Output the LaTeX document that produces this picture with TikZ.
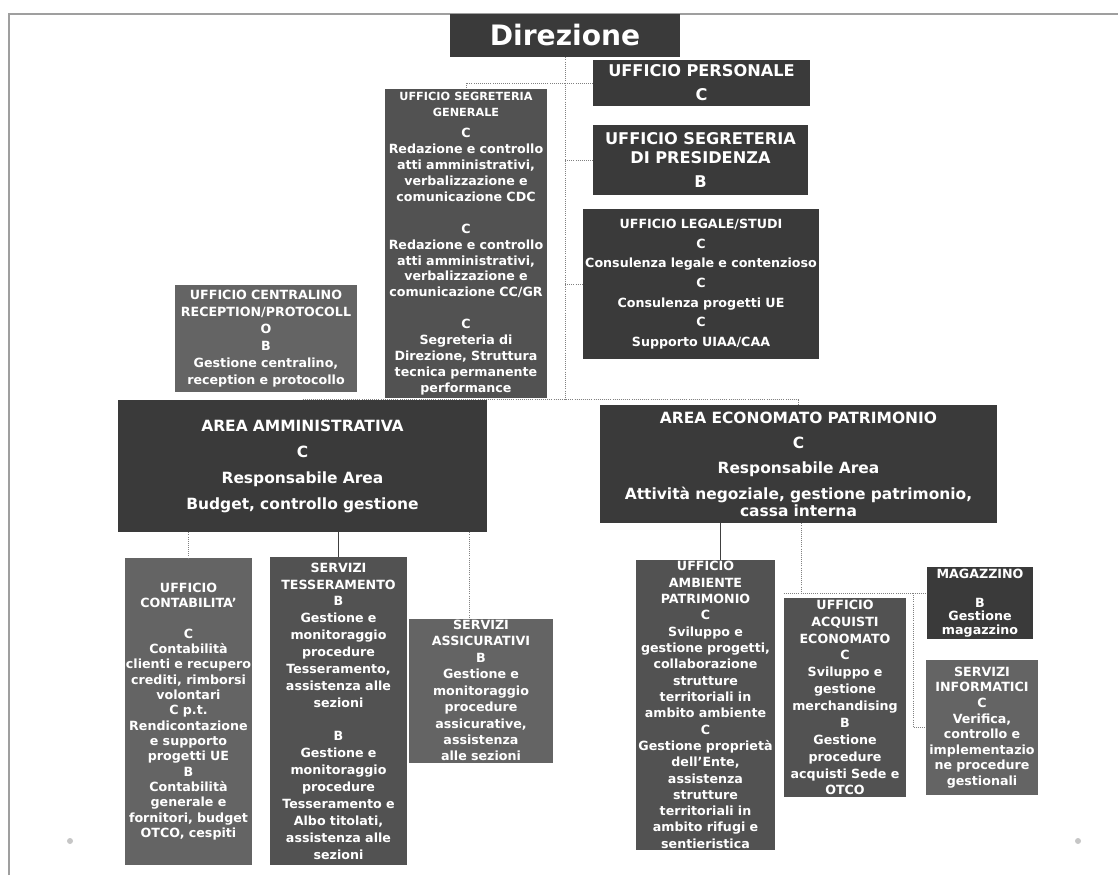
\documentclass[tikz,border=0pt]{standalone}
\usepackage{fontspec}
\setmainfont{DejaVu Sans}
\definecolor{org_dark}{RGB}{58,58,58}
\definecolor{org_mid}{RGB}{82,82,82}
\definecolor{org_light}{RGB}{100,100,100}
\newlength{\pxu}
\setlength{\pxu}{0.025cm}

% Define box and link styles
\tikzset{
    unit/.style={fill=org_mid, text=white, align=center,
        font=\bfseries\fontsize{9}{11}\selectfont,
        inner xsep=0pt, inner ysep=1pt},
    link/.style={gray, densely dotted, line width=0.5pt},
    linksolid/.style={black!75, line width=0.6pt}
}

\begin{document}
\begin{tikzpicture}[x=0.025cm,y=-0.025cm]
    \useasboundingbox (0,0) rectangle (1118,875);
    \draw[gray!75, line width=0.8pt] (9,875) -- (9,14) -- (1118,14); % Draw the frame
    \foreach \x in {70,1078}
        \fill[gray!45] (\x,841) circle (3);

    % Top level
    \node[unit, fill=org_dark, minimum width=230\pxu, text width=230\pxu, minimum height=43\pxu,
        font=\bfseries\fontsize{20}{22}\selectfont] (direzione) at (565,35.5) {Direzione};

    \node[unit, fill=org_dark, minimum width=217\pxu, text width=217\pxu, minimum height=46\pxu,
        font=\bfseries\fontsize{11.5}{17}\selectfont] (personale) at (701.5,83)
        {UFFICIO PERSONALE\\C};
    \node[unit, fill=org_dark, minimum width=215\pxu, text width=215\pxu, minimum height=70\pxu,
        font=\bfseries\fontsize{11.5}{13.5}\selectfont] (presidenza) at (700.5,160)
        {UFFICIO SEGRETERIA\\DI PRESIDENZA\\[4pt]B};
    \node[unit, fill=org_dark, minimum width=236\pxu, text width=236\pxu, minimum height=150\pxu,
        font=\bfseries\fontsize{9}{14}\selectfont] (legale) at (701,284)
        {UFFICIO LEGALE/STUDI\\C\\Consulenza legale e contenzioso\\C\\Consulenza progetti UE\\C\\Supporto UIAA/CAA};

    \node[unit, minimum width=162\pxu, text width=162\pxu, minimum height=309\pxu,
        font=\bfseries\fontsize{9}{11.3}\selectfont] (seggen) at (466,243.5)
        {{\fontsize{8}{10}\selectfont UFFICIO SEGRETERIA\\GENERALE}\\[4pt]C\\Redazione e controllo\\atti amministrativi,\\verbalizzazione e\\comunicazione CDC\\[11.3pt]C\\Redazione e controllo\\atti amministrativi,\\verbalizzazione e\\comunicazione CC/GR\\[11.3pt]C\\Segreteria di\\Direzione, Struttura\\tecnica permanente\\performance};
    \node[unit, fill=org_light, minimum width=182\pxu, text width=182\pxu, minimum height=107\pxu,
        font=\bfseries\fontsize{9}{12}\selectfont] (centralino) at (266,338.5)
        {UFFICIO CENTRALINO\\RECEPTION/PROTOCOLL\\O\\B\\Gestione centralino,\\reception e protocollo};

    % Areas
    \node[unit, fill=org_dark, minimum width=369\pxu, text width=369\pxu, minimum height=132\pxu,
        font=\bfseries\fontsize{11}{18.5}\selectfont] (areaamm) at (302.5,466)
        {AREA AMMINISTRATIVA\\C\\Responsabile Area\\Budget, controllo gestione};
    \node[unit, fill=org_dark, minimum width=397\pxu, text width=397\pxu, minimum height=118\pxu,
        font=\bfseries\fontsize{11}{18}\selectfont] (areaeco) at (798.5,464)
        {AREA ECONOMATO PATRIMONIO\\C\\Responsabile Area\\Attività negoziale, gestione patrimonio,\\[-6pt]cassa interna};

    % Offices of the administrative area
    \node[unit, fill=org_light, minimum width=127\pxu, text width=127\pxu, minimum height=307\pxu,
        font=\bfseries\fontsize{9}{10.9}\selectfont] (contab) at (188.5,711.5)
        {UFFICIO\\CONTABILITA'\\[10.9pt]C\\Contabilità\\clienti e recupero\\crediti, rimborsi\\volontari\\C p.t.\\Rendicontazione\\e supporto\\progetti UE\\B\\Contabilità\\generale e\\fornitori, budget\\OTCO, cespiti};
    \node[unit, minimum width=137\pxu, text width=137\pxu, minimum height=308\pxu,
        font=\bfseries\fontsize{9}{12}\selectfont] (tesser) at (338.5,711)
        {SERVIZI\\TESSERAMENTO\\B\\Gestione e\\monitoraggio\\procedure\\Tesseramento,\\assistenza alle\\sezioni\\[12pt]B\\Gestione e\\monitoraggio\\procedure\\Tesseramento e\\Albo titolati,\\assistenza alle\\sezioni};
    \node[unit, fill=org_light, minimum width=144\pxu, text width=144\pxu, minimum height=137\pxu,
        font=\bfseries\fontsize{9}{11.7}\selectfont] (assic) at (481,690.5)
        {SERVIZI\\ASSICURATIVI\\B\\Gestione e\\monitoraggio\\procedure\\assicurative,\\assistenza\\alle sezioni};

    % Offices of the economato area
    \node[unit, minimum width=139\pxu, text width=139\pxu, minimum height=284\pxu,
        font=\bfseries\fontsize{9}{11.6}\selectfont] (ambiente) at (705.5,705)
        {UFFICIO\\AMBIENTE\\PATRIMONIO\\C\\Sviluppo e\\gestione progetti,\\collaborazione\\strutture\\territoriali in\\ambito ambiente\\C\\Gestione proprietà\\dell'Ente,\\assistenza\\strutture\\territoriali in\\ambito rifugi e\\sentieristica};
    \node[unit, minimum width=122\pxu, text width=122\pxu, minimum height=199\pxu,
        font=\bfseries\fontsize{9}{12}\selectfont] (acquisti) at (845,697.5)
        {UFFICIO\\ACQUISTI\\ECONOMATO\\C\\Sviluppo e\\gestione\\merchandising\\B\\Gestione\\procedure\\acquisti Sede e\\OTCO};
    \node[unit, fill=org_dark, minimum width=106\pxu, text width=106\pxu, minimum height=72\pxu,
        font=\bfseries\fontsize{9}{9.5}\selectfont] (magazzino) at (980,603)
        {MAGAZZINO\\[11pt]B\\Gestione\\magazzino};
    \node[unit, fill=org_light, minimum width=112\pxu, text width=112\pxu, minimum height=135\pxu,
        font=\bfseries\fontsize{9}{11.1}\selectfont] (informatici) at (982,727.5)
        {SERVIZI\\INFORMATICI\\C\\Verifica,\\controllo e\\implementazio\\ne procedure\\gestionali};

    % Draw links from the top
    \draw[link] (direzione.south) -- (direzione.south |- areaamm.north);
    \draw[link] (areaamm.north) -| (areaeco.north);
    \draw[link] (direzione.south |- personale.west) -- (personale.west);
    \draw[link] (direzione.south |- presidenza.west) -- (presidenza.west);
    \draw[link] (direzione.south |- legale.west) -- (legale.west);
    \draw[link] (direzione.south |- personale.west) -| (seggen.north);

    % Draw links of the administrative area
    \draw[link] (areaamm.south -| contab.north) -- (contab.north);
    \draw[linksolid] (areaamm.south -| tesser.north) -- (tesser.north);
    \draw[link] ([xshift=-12\pxu]assic.north |- areaamm.south) -- ([xshift=-12\pxu]assic.north);

    % Draw links of the economato area
    \coordinate (ecosplit) at (801,593);
    \coordinate (itsplit) at (913,593);
    \draw[linksolid] ([xshift=15\pxu]ambiente.north |- areaeco.south) -- ([xshift=15\pxu]ambiente.north);
    \draw[link] (areaeco.south -| ecosplit) -- (ecosplit);
    \draw[link] (acquisti.north west |- ecosplit) -- (ecosplit -| magazzino.west);
    \draw[link] (itsplit) |- (informatici.west);
\end{tikzpicture}
\end{document}
